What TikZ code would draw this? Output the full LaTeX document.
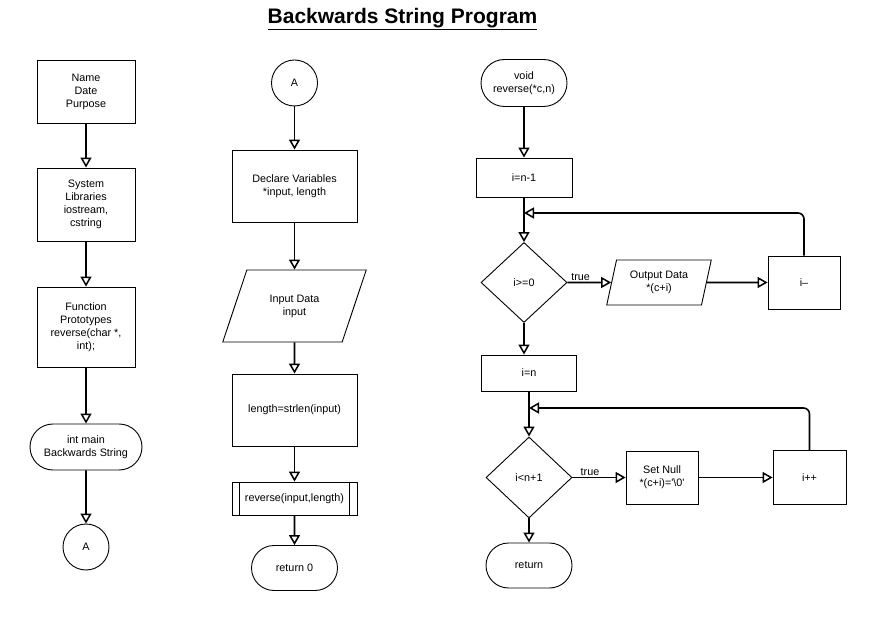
\documentclass[tikz,border=0pt]{standalone}
\usepackage{fontspec}
\setmainfont{Liberation Sans}
\usetikzlibrary{arrows.meta, shapes.geometric, shapes.misc, positioning}

\begin{document}
\begin{tikzpicture}[x=1pt,y=-1pt]

\tikzset{block/.style = {shape=rectangle,draw,line width=0.9pt,align=center,inner sep=2pt,font=\fontsize{10.8}{13}\selectfont}}
\tikzset{term/.style = {block,shape=rounded rectangle}}
\tikzset{conn/.style = {block,shape=circle,minimum size=46pt}}
\tikzset{cond/.style = {block,shape=diamond,minimum width=86pt,minimum height=80pt,inner sep=0pt}}
\tikzset{io/.style = {block,shape=trapezium,trapezium stretches=true,trapezium left angle=#1,trapezium right angle=180-#1}}
\tikzset{edge/.style = {line width=1.6pt,-{Triangle[open,width=11pt,length=10pt,line width=1.5pt]}}}
\tikzset{lbl/.style = {font=\fontsize{10.8}{13}\selectfont,inner sep=1.5pt}}

\useasboundingbox (0,0) rectangle (873,617);

%title
\node[font=\fontsize{21}{24}\bfseries] (title) at (402.5,19) {\underline{Backwards String Program}};

%verticies, first column
\node[block, minimum width=98pt, minimum height=63pt] (head) at (86,91.5) {Name\\Date\\Purpose};
\node[block, minimum width=98pt, minimum height=73pt] (libs) at (86,204.5) {System\\Libraries\\iostream,\\cstring};
\node[block, minimum width=98pt, minimum height=80pt] (proto) at (86,327) {Function\\Prototypes\\reverse(char *,\\int);};
\node[term, minimum width=116pt, minimum height=46pt] (main) at (86,447) {int main\\Backwards String};
\node[conn] (A1) at (86,547) {A};

%verticies, second column
\node[conn] (A2) at (294.5,83) {A};
\node[block, minimum width=125pt, minimum height=72pt] (decl) at (294.5,186) {Declare Variables\\*input, length};
\node[io=63, minimum width=144pt, minimum height=72pt] (input) at (294.5,306) {Input Data\\input};
\node[block, minimum width=125pt, minimum height=72pt] (len) at (294.5,410) {length=strlen(input)};
\node[block, minimum width=125pt, minimum height=33pt] (call) at (294.5,498.5) {reverse(input,length)};
\draw[line width=0.9pt] ([xshift=8pt]call.north west) -- ([xshift=8pt]call.south west);
\draw[line width=0.9pt] ([xshift=-8pt]call.north east) -- ([xshift=-8pt]call.south east);
\node[term, minimum width=90pt, minimum height=45pt] (ret0) at (294.5,568) {return 0};

%verticies, third column
\node[term, minimum width=90pt, minimum height=47pt] (rev) at (524,83) {void\\reverse(*c,n)};
\node[block, minimum width=96pt, minimum height=39pt] (init1) at (524,177.5) {i=n-1};
\node[cond] (test1) at (524,282.5) {i>=0};
\node[io=75, minimum width=105pt, minimum height=45pt] (out) at (659,282.5) {Output Data\\*(c+i)};
\node[block, minimum width=72pt, minimum height=53pt] (dec) at (804,282.5) {i--};
\coordinate (join1) at (524,213);

\node[block, minimum width=95pt, minimum height=36pt] (init2) at (529,373) {i=n};
\node[cond, minimum height=81pt] (test2) at (529,477.5) {i<n+1};
\node[block, minimum width=72pt, minimum height=53pt] (null) at (662,477.5) {Set Null\\*(c+i)=\textquotesingle\textbackslash0\textquotesingle};
\node[block, minimum width=73pt, minimum height=54pt] (inc) at (809.5,477.5) {i++};
\node[term, minimum width=90pt, minimum height=45pt] (ret) at (529,565.5) {return};
\coordinate (join2) at (529,408);

%edges
\draw [edge] (head) -- (libs);
\draw [edge] (libs) -- (proto);
\draw [edge] (proto) -- (main);
\draw [edge] (main) -- (A1);

\draw [edge] (A2) -- (decl);
\draw [edge] (decl) -- (input);
\draw [edge] (input) -- (len);
\draw [edge] (len) -- (call);
\draw [edge] (call) -- (ret0);

\draw [edge] (rev) -- (init1);
\draw [edge] (init1) -- (test1);
\draw [edge] (test1) -- node [lbl, above, pos=0.3] {true} (out);
\draw [edge] (out) -- (dec);
\draw [edge, rounded corners=6pt] (dec.north) |- (join1);
\draw [edge] (test1.south) -- (test1.south |- init2.north);

\draw [edge] (init2) -- (test2);
\draw [edge] (test2) -- node [lbl, above, pos=0.33] {true} (null);
\draw [edge] (null) -- (inc);
\draw [edge, rounded corners=6pt] (inc.north) |- (join2);
\draw [edge] (test2) -- (ret);

\end{tikzpicture}
\end{document}
